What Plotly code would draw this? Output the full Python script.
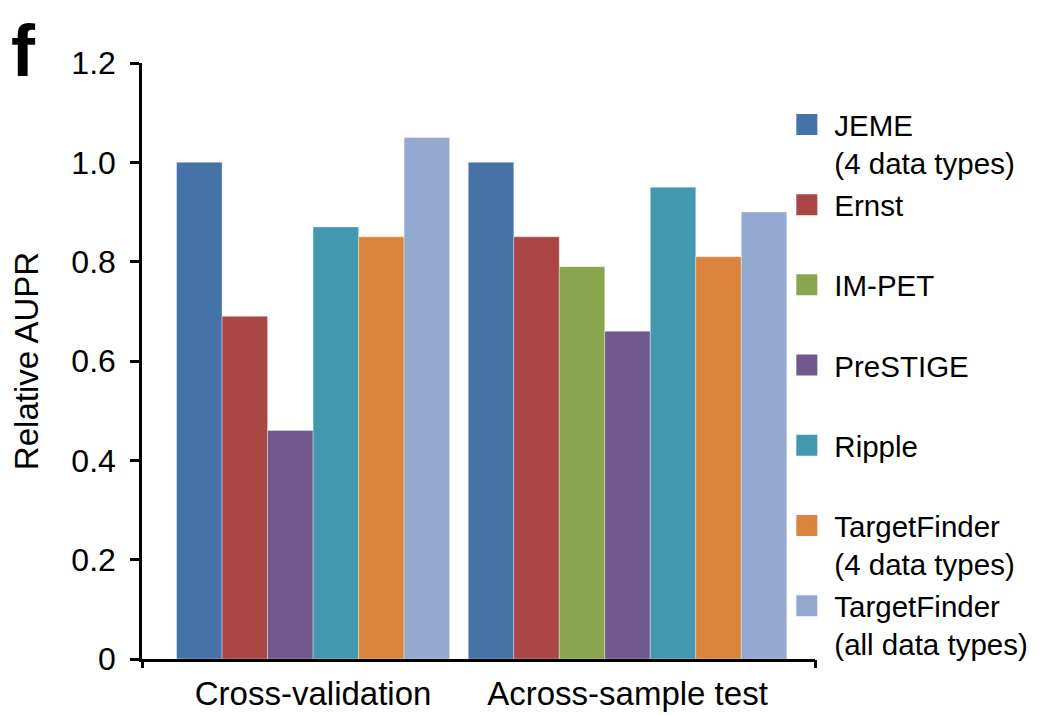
import plotly.graph_objects as go

# ---- data ----
groups = ["Cross-validation", "Across-sample test"]
methods = ["JEME", "Ernst", "IM-PET", "PreSTIGE", "Ripple",
           "TargetFinder (4 data types)", "TargetFinder (all data types)"]
legend_labels = ["JEME<br>(4 data types)", "Ernst<br> ", "IM-PET<br> ", "PreSTIGE<br> ",
                 "Ripple<br> ", "TargetFinder<br>(4 data types)", "TargetFinder<br>(all data types)"]
cross_validation = [1.00, 0.69, None, 0.46, 0.87, 0.85, 1.05]
across_sample = [1.00, 0.85, 0.79, 0.66, 0.95, 0.81, 0.90]
y_ticks = [0, 0.2, 0.4, 0.6, 0.8, 1.0, 1.2]
y_ticktext = ["0", "0.2", "0.4", "0.6", "0.8", "1.0", "1.2"]
colors = ["#4572A7", "#AA4643", "#89A54E", "#71588F", "#4198AF", "#DB843D", "#93A9CF"]

values_by_group = [cross_validation, across_sample]

# ---- layout of the categorical band (in bar-width units) ----
left_pad, group_gap, right_pad = 0.76, 0.41, 0.62
group_starts, group_centers = [], []
pos = left_pad
for vals in values_by_group:
    n = sum(v is not None for v in vals)
    group_starts.append(pos)
    group_centers.append(pos + n / 2)
    pos += n + group_gap
x_max = pos - group_gap + right_pad

FONT = "Liberation Sans, Arial, sans-serif"
fig = go.Figure()

for m, name in enumerate(methods):
    xs, ys = [], []
    for g, vals in enumerate(values_by_group):
        if vals[m] is None:
            continue
        idx = sum(v is not None for v in vals[:m])
        xs.append(group_starts[g] + idx + 0.5)
        ys.append(vals[m])
    fig.add_trace(go.Bar(
        x=xs, y=ys, width=1, name=name, showlegend=False,
        marker=dict(color=colors[m], line=dict(color="rgba(255,255,255,0.35)", width=1)),
    ))

# legend-only square markers
for m, lab in enumerate(legend_labels):
    fig.add_trace(go.Scatter(
        x=[None], y=[None], mode="markers", name=lab, legendgroup=str(m),
        marker=dict(symbol="square", size=16, color=colors[m],
                    line=dict(color=colors[m], width=9)),
        xaxis="x2",
    ))

# the page body adds an 8px margin, so the figure is 8px smaller than the window
fig.update_layout(
    width=1032, height=707,
    margin=dict(l=134, r=225, t=55, b=56, autoexpand=False),
    paper_bgcolor="white", plot_bgcolor="white",
    font=dict(family=FONT, size=30, color="black"),
    barmode="overlay",
    xaxis=dict(
        range=[0, x_max], tickmode="array", tickvals=group_centers, ticktext=groups,
        ticks="", showline=True, linecolor="black", linewidth=2.5,
        showgrid=False, zeroline=False, tickfont=dict(size=33), ticklabelstandoff=4,
    ),
    xaxis2=dict(
        range=[0, x_max], overlaying="x", anchor="y", side="bottom",
        tickmode="array", tickvals=[0, x_max], showticklabels=False,
        ticks="outside", ticklen=8, tickwidth=2.5, tickcolor="black",
        showline=False, showgrid=False, zeroline=False,
    ),
    yaxis=dict(
        range=[0, 1.2], tickmode="array", tickvals=y_ticks, ticktext=y_ticktext,
        ticks="outside", ticklen=9, tickwidth=2.5, tickcolor="black",
        showline=True, linecolor="black", linewidth=2.5,
        showgrid=False, zeroline=False, ticklabelstandoff=8, tickfont=dict(size=32),
        title=dict(text="Relative AUPR", font=dict(size=33), standoff=28),
    ),
    legend=dict(
        x=0.947, xanchor="left", y=0.94, yanchor="top",
        font=dict(size=29.5), itemwidth=45, valign="top",
        tracegroupgap=0.5, bgcolor="rgba(0,0,0,0)", maxheight=1,
    ),
    annotations=[dict(
        text="<b>f</b>", xref="paper", yref="paper", x=-0.197, y=1.091,
        xanchor="left", yanchor="top", showarrow=False,
        font=dict(family=FONT, size=72, color="black"),
    )],
)

fig.write_html("out.html")
